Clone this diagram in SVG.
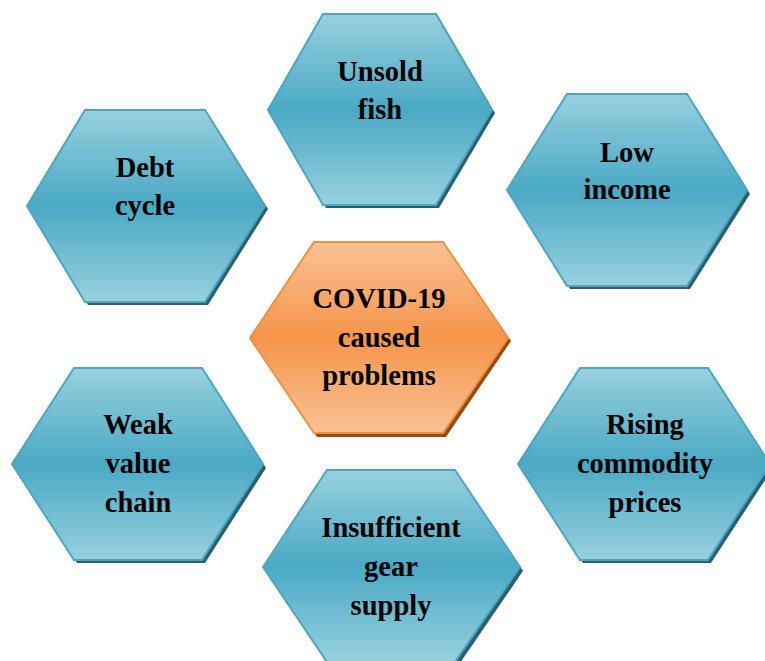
<svg xmlns="http://www.w3.org/2000/svg" width="765" height="661" viewBox="0 0 765 661">
<defs>
<linearGradient id="gb" x1="0" y1="0" x2="0" y2="1">
<stop offset="0" stop-color="#97d0df"/>
<stop offset="0.5" stop-color="#4aa9c4"/>
<stop offset="1" stop-color="#97d0df"/>
</linearGradient>
<linearGradient id="go" x1="0" y1="0" x2="0" y2="1">
<stop offset="0" stop-color="#f9c295"/>
<stop offset="0.5" stop-color="#f5954a"/>
<stop offset="1" stop-color="#f9c295"/>
</linearGradient>
</defs>
<style>
.sb{fill:#28606f}
.so{fill:#9a4a10}
.hb{fill:url(#gb);stroke:#4ba7c1;stroke-width:2}
.ho{fill:url(#go);stroke:#f0913f;stroke-width:2}
text{font-family:"Liberation Serif","Times New Roman",serif;font-weight:bold;font-size:28.5px;fill:#000;text-anchor:middle}
</style>
<g id="connectors"></g>
<g id="unsold-fish">
<polygon class="sb" points="271,113 326,18 439,18 495,113 439,208 326,208"/>
<polygon class="hb" points="268,110 323,14 436,14 492,110 436,205 323,205"/>
<text x="380" y="81">Unsold</text>
<text x="380" y="119">fish</text>
</g>
<g id="debt-cycle">
<polygon class="sb" points="30,209 88,114 208,114 268,209 208,305 88,305"/>
<polygon class="hb" points="27,206 85,110 205,110 265,206 205,302 85,302"/>
<text x="145" y="177">Debt</text>
<text x="145" y="215">cycle</text>
</g>
<g id="low-income">
<polygon class="sb" points="510,194 570,98 690,98 750,194 690,289 570,289"/>
<polygon class="hb" points="507,190 567,94 687,94 747,190 687,286 567,286"/>
<text x="627" y="162">Low</text>
<text x="627" y="199">income</text>
</g>
<g id="covid-19">
<polygon class="so" points="253,341 317,246 446,246 511,341 446,437 317,437"/>
<polygon class="ho" points="250,338 314,242 443,242 508,338 443,433 314,433"/>
<text x="379" y="308">COVID-19</text>
<text x="379" y="347">caused</text>
<text x="379" y="385">problems</text>
</g>
<g id="weak-value-chain">
<polygon class="sb" points="15,468 77,372 205,372 266,468 205,563 77,563"/>
<polygon class="hb" points="12,464 74,368 202,368 263,464 202,560 74,560"/>
<text x="138" y="434">Weak</text>
<text x="138" y="473">value</text>
<text x="138" y="512">chain</text>
</g>
<g id="rising-commodity-prices">
<polygon class="sb" points="521,468 583,372 711,372 773,468 711,563 583,563"/>
<polygon class="hb" points="518,464 580,368 708,368 770,464 708,560 580,560"/>
<text x="645" y="434">Rising</text>
<text x="645" y="473">commodity</text>
<text x="645" y="512">prices</text>
</g>
<g id="insufficient-gear-supply">
<polygon class="sb" points="266,571 330,474 458,474 523,571 458,666 330,666"/>
<polygon class="hb" points="263,567 327,470 455,470 520,567 455,662 327,662"/>
<text x="391" y="537">Insufficient</text>
<text x="391" y="576">gear</text>
<text x="391" y="615">supply</text>
</g>
</svg>
